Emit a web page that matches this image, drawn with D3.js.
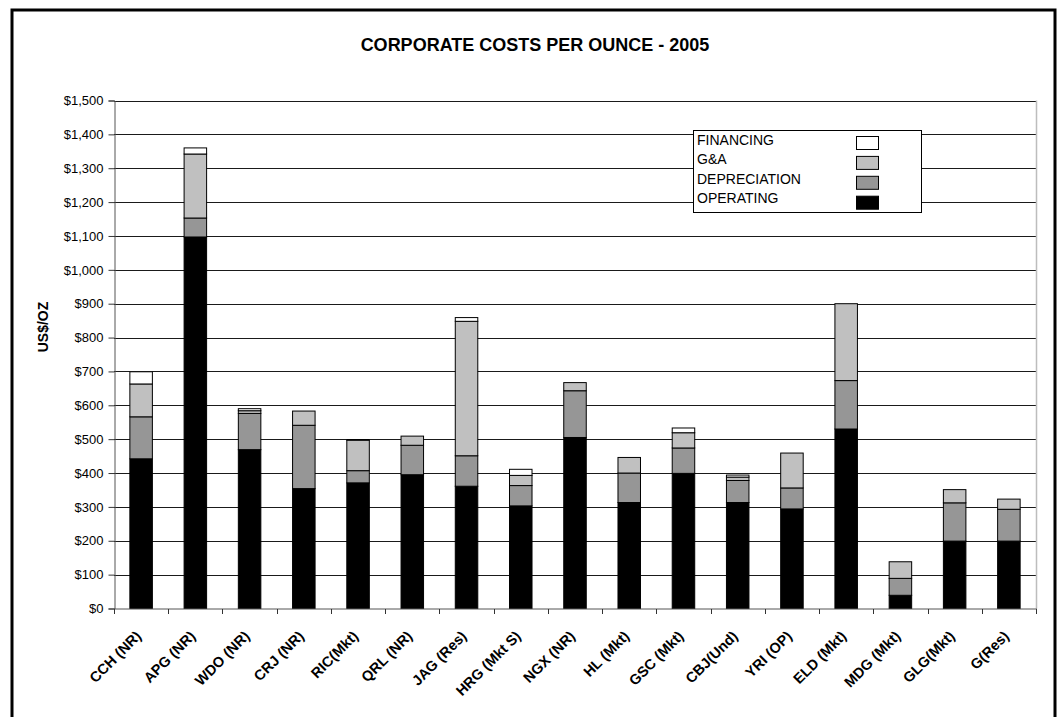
<!DOCTYPE html>
<html>
<head>
<meta charset="utf-8">
<script src="https://cdn.jsdelivr.net/npm/d3@7"></script>
<style>
  html, body { margin: 0; padding: 0; background: #fff; }
  svg { display: block; font-family: Arial, "Liberation Sans", sans-serif; }
</style>
</head>
<body>
<svg id="chart" width="1058" height="717"></svg>
<script>
const categories = ["CCH (NR)","APG (NR)","WDO (NR)","CRJ (NR)","RIC(Mkt)","QRL (NR)","JAG (Res)","HRG (Mkt S)","NGX (NR)","HL (Mkt)","GSC (Mkt)","CBJ(Und)","YRI (OP)","ELD (Mkt)","MDG (Mkt)","GLG(Mkt)","G(Res)"];
const operating    = [442,1097,469,354,371,395,361,303,505,313,399,313,294,530,39,199,199];
const depreciation = [124,56,107,187,36,87,90,60,138,87,75,65,62,143,50,113,94];
const gAndA        = [97,189,8,42,90,27,397,30,24,46,45,10,103,227,49,39,30];
const financing    = [36,18,6,0,2,0,11,18,0,0,14,6,0,0,0,0,0];
const seriesNames  = ["OPERATING","DEPRECIATION","G&A","FINANCING"];
const seriesColors = ["#000000","#969696","#c0c0c0","#ffffff"];
const yTicks = [0,100,200,300,400,500,600,700,800,900,1000,1100,1200,1300,1400,1500];
const chartTitle = "CORPORATE COSTS PER OUNCE - 2005";
const yTitle = "US$/OZ";

(function () {
const svg = d3.select("#chart");
const pLeft = 114, pRight = 1036, pTop = 100.5, pBottom = 608.5;

// outer border
svg.append("rect").attr("x", 12).attr("y", 10).attr("width", 1043).attr("height", 712)
  .attr("fill", "none").attr("stroke", "#000").attr("stroke-width", 3);

const x = d3.scaleBand().domain(categories).range([pLeft, pRight]).paddingInner(0.585).paddingOuter(0.2925);
const y = d3.scaleLinear().domain([0, 1500]).range([pBottom, pTop]);

// gridlines
svg.append("g").selectAll("line").data(yTicks.filter(d => d > 0)).join("line")
  .attr("x1", pLeft).attr("x2", pRight)
  .attr("y1", d => Math.round(y(d)) + 0.5).attr("y2", d => Math.round(y(d)) + 0.5)
  .attr("stroke", "#1a1a1a").attr("stroke-width", 1);

// right plot border
svg.append("line").attr("x1", pRight + 0.5).attr("x2", pRight + 0.5).attr("y1", pTop).attr("y2", pBottom)
  .attr("stroke", "#bdbdbd").attr("stroke-width", 1.5);

// stacked data
const rows = categories.map((c, i) => ({cat: c, OPERATING: operating[i], DEPRECIATION: depreciation[i], "G&A": gAndA[i], FINANCING: financing[i]}));
const stacked = d3.stack().keys(seriesNames)(rows);

svg.append("g").selectAll("g").data(stacked).join("g")
  .attr("fill", (d, i) => seriesColors[i])
  .selectAll("rect").data(d => d.filter(s => s[1] - s[0] > 0)).join("rect")
  .attr("x", d => x(d.data.cat))
  .attr("width", x.bandwidth())
  .attr("y", d => y(d[1]))
  .attr("height", d => y(d[0]) - y(d[1]))
  .attr("stroke", "#000").attr("stroke-width", 1);

// y axis
const yAxis = d3.axisLeft(y).tickValues(yTicks).tickSize(6).tickPadding(5)
  .tickFormat(d => "$" + d3.format(",")(d));
const gy = svg.append("g").attr("transform", `translate(${pLeft + 0.5},0)`).call(yAxis);
gy.select(".domain").attr("stroke", "#555");
gy.selectAll(".tick line").attr("stroke", "#333");
gy.selectAll("text").attr("font-size", 13).attr("fill", "#000").attr("font-family", "Arial, 'Liberation Sans', sans-serif");

// x axis
const gx = svg.append("g").attr("transform", `translate(0,${pBottom + 0.5})`);
gx.append("line").attr("x1", pLeft).attr("x2", pRight + 1).attr("y1", 0).attr("y2", 0).attr("stroke", "#555");
const bounds = d3.range(categories.length + 1).map(i => pLeft + i * x.step());
gx.selectAll("line.tk").data(bounds).join("line").attr("class", "tk")
  .attr("x1", d => Math.round(d) + 0.5).attr("x2", d => Math.round(d) + 0.5)
  .attr("y1", 0).attr("y2", 5).attr("stroke", "#333");
gx.selectAll("text").data(categories).join("text")
  .attr("transform", d => `translate(${x(d) + x.bandwidth() / 2 + 1},${28}) rotate(-45)`)
  .attr("text-anchor", "end")
  .attr("font-size", 14.5).attr("font-weight", "bold").attr("fill", "#000")
  .text(d => d);

// title
svg.append("text").attr("x", 535).attr("y", 50.5).attr("text-anchor", "middle")
  .attr("font-size", 18).attr("font-weight", "bold").text(chartTitle);

// y title
svg.append("text").attr("transform", "translate(48,327) rotate(-90)").attr("text-anchor", "middle")
  .attr("font-size", 14).attr("font-weight", "bold").text(yTitle);

// legend
const lg = svg.append("g");
lg.append("rect").attr("x", 693.5).attr("y", 130.5).attr("width", 228).attr("height", 82)
  .attr("fill", "#fff").attr("stroke", "#000").attr("stroke-width", 1);
const legendOrder = ["FINANCING","G&A","DEPRECIATION","OPERATING"];
legendOrder.forEach((name, i) => {
  const idx = seriesNames.indexOf(name);
  lg.append("text").attr("x", 697).attr("y", 145 + i * 19.3).attr("font-size", 14).attr("fill", "#000").text(name);
  lg.append("rect").attr("x", 856.5).attr("y", 136.5 + i * 19.9).attr("width", 22).attr("height", 13)
    .attr("fill", seriesColors[idx]).attr("stroke", "#000").attr("stroke-width", 1);
});
})();
</script>
</body>
</html>
